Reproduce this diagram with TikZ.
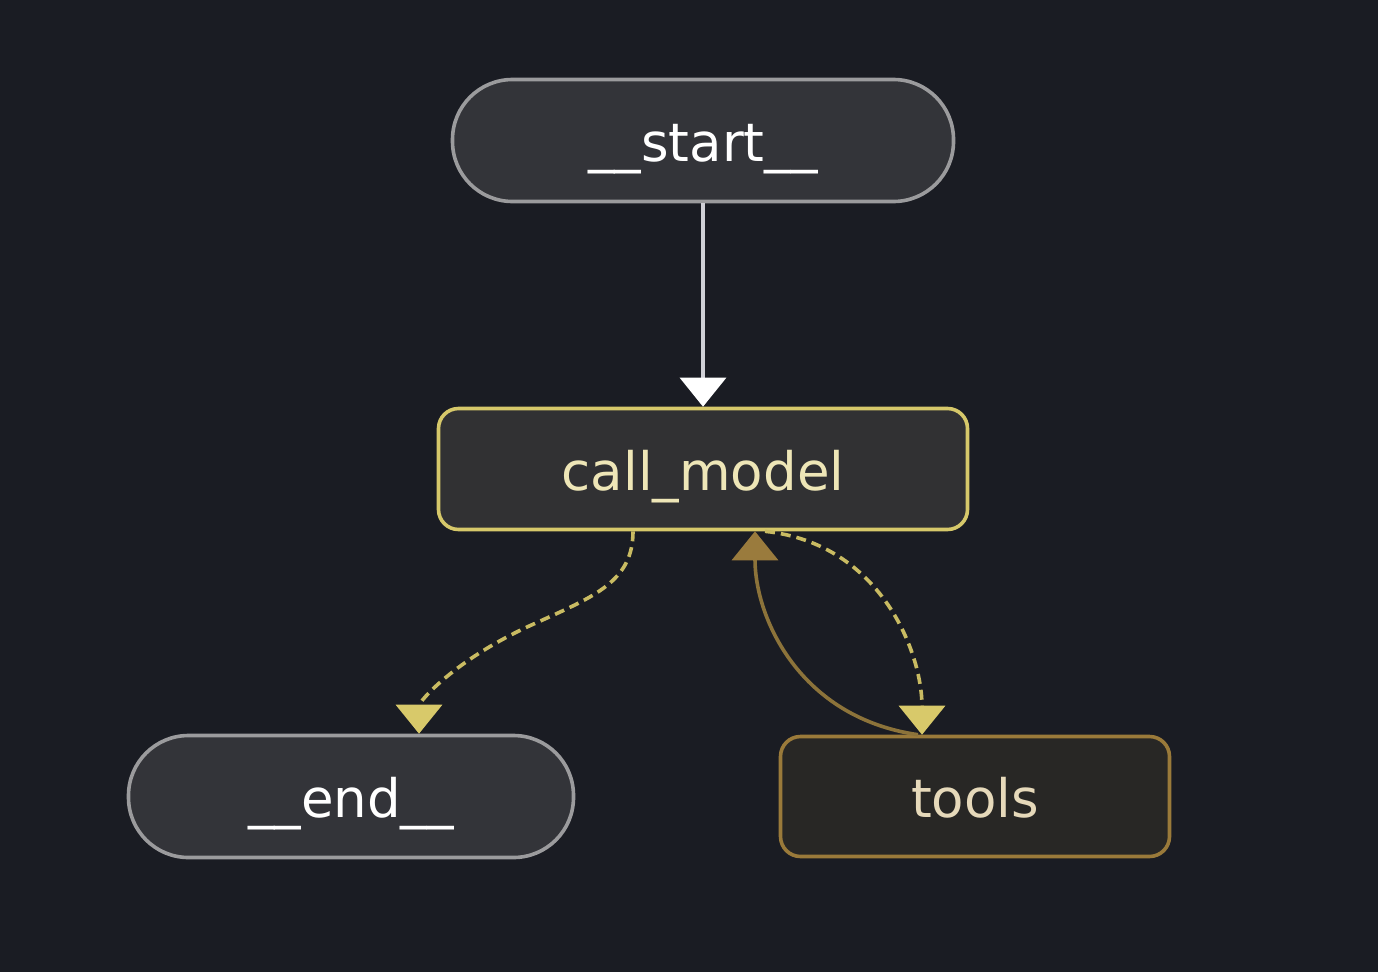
\documentclass[tikz,border=0pt]{standalone}
\usepackage{fontspec}
\setmainfont{DejaVu Sans}
\usetikzlibrary{arrows.meta,calc}
\definecolor{bg}{RGB}{26,28,35}
\definecolor{termfill}{RGB}{51,52,57}
\definecolor{termdraw}{RGB}{155,155,157}
\definecolor{cmfill}{RGB}{49,49,51}
\definecolor{cmdraw}{RGB}{214,200,106}
\definecolor{cmtext}{RGB}{238,230,183}
\definecolor{toolfill}{RGB}{40,39,37}
\definecolor{tooldraw}{RGB}{154,122,58}
\definecolor{tooltext}{RGB}{230,217,186}
\definecolor{startedge}{RGB}{208,208,214}
\definecolor{dashedge}{RGB}{201,187,98}
\definecolor{dashtip}{RGB}{216,201,106}
\definecolor{brownedge}{RGB}{140,115,58}
\definecolor{browntip}{RGB}{154,123,61}
\tikzset{
  base/.style={line width=3.6pt, inner sep=0pt, text height=42pt, text depth=0pt,
    font=\fontsize{53}{60}\selectfont},
  terminal/.style={base, draw=termdraw, fill=termfill, text=white,
    rounded corners=60pt, minimum height=122pt},
  cmbox/.style={base, draw=cmdraw, fill=cmfill, text=cmtext,
    rounded corners=20pt, minimum height=121pt},
  toolbox/.style={base, draw=tooldraw, fill=toolfill, text=tooltext,
    rounded corners=20pt, minimum height=120pt},
  dashline/.style={draw=dashedge, line width=3.6pt, dash pattern=on 10pt off 6pt,
    -{Triangle[width=46pt,length=29pt,fill=dashtip,color=dashtip]}},
  brownline/.style={draw=brownedge, line width=3.6pt,
    -{Triangle[width=46pt,length=29pt,fill=browntip,color=browntip]}},
  startline/.style={draw=startedge, line width=3.2pt,
    -{Triangle[width=46pt,length=29pt,fill=white,color=white]}}
}
\begin{document}
\begin{tikzpicture}[x=1pt,y=-1pt]
\fill[bg] (0,0) rectangle (1378,972);
\useasboundingbox (0,0) rectangle (1378,972);

\node[terminal, minimum width=501pt] (start) at (703,140.5) {\_\_start\_\_};
\node[cmbox, minimum width=529pt] (cm) at (703,469) {call\_model};
\node[terminal, minimum width=445pt] (end) at (351,796.5) {\_\_end\_\_};
\node[toolbox, minimum width=389pt] (tools) at (975,796.5) {tools};

\draw[startline] (start.south) -- (cm.north);

\draw[dashline] ([xshift=-70pt]cm.south)
  .. controls +(0,50) and +(62,-28) .. ($(cm.south)+(-170,93)$)
  .. controls +(-78,35) and +(0,-32) .. ([xshift=68pt]end.north);

\draw[dashline] ([xshift=62pt]cm.south)
  .. controls +(115,12) and +(0,-83) .. ([xshift=-53pt]tools.north);

\draw[brownline] ([xshift=-57pt]tools.north)
  .. controls +(-118,-17) and +(0,87) .. ([xshift=52pt]cm.south);
\end{tikzpicture}
\end{document}
